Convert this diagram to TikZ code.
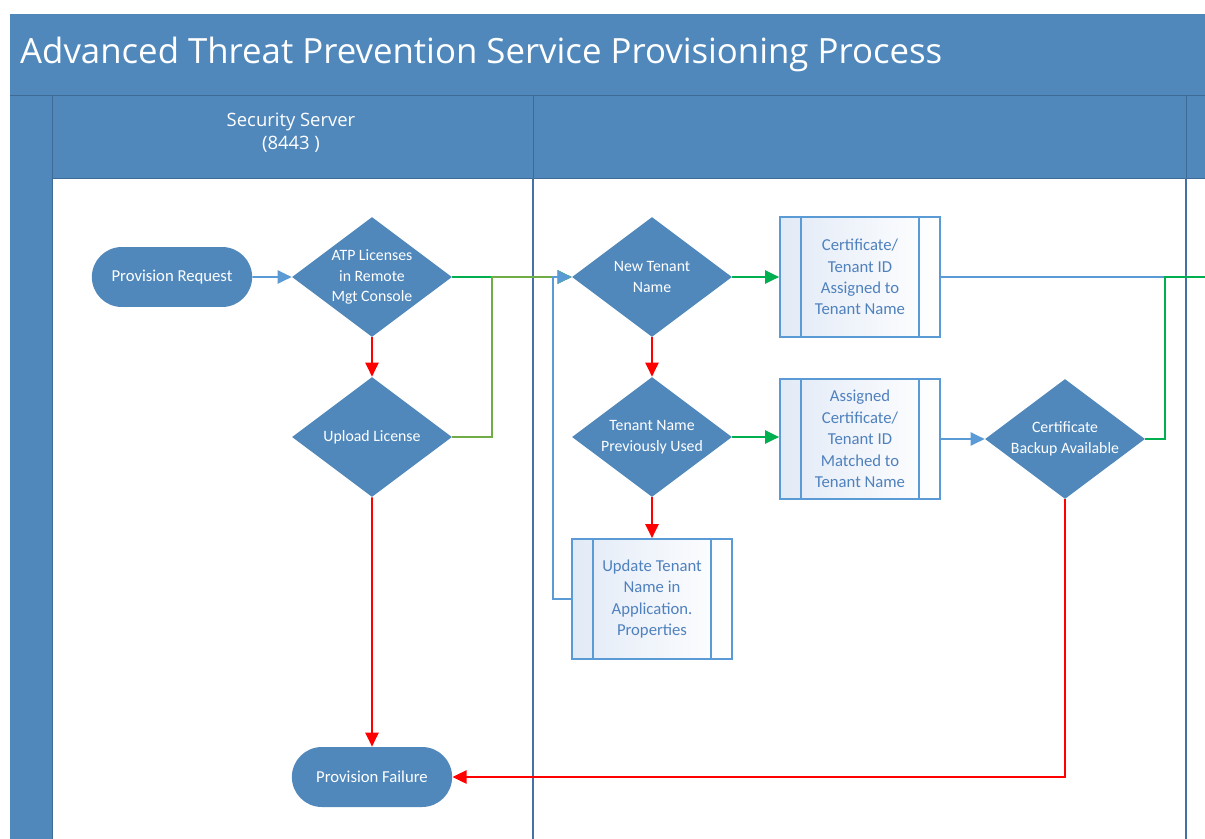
\documentclass[tikz,border=0pt]{standalone}
\usepackage{fontspec}
\setmainfont{Carlito}
\newfontfamily\headfont{Open Sans}
\usetikzlibrary{shapes.geometric,shapes.misc,arrows.meta}

\definecolor{lanefill}{RGB}{80,136,188}
\definecolor{laneline}{RGB}{62,106,150}
\definecolor{lanediv}{RGB}{70,112,168}
\definecolor{flowblue}{RGB}{91,155,213}
\definecolor{yesgreen}{RGB}{0,176,80}
\definecolor{oldgreen}{RGB}{112,173,71}
\definecolor{nored}{RGB}{255,0,0}
\definecolor{proctext}{RGB}{79,129,189}
\definecolor{procfill}{RGB}{226,234,247}

\tikzset{
	terminal/.style={rounded rectangle, fill=lanefill, text=white, minimum width=3.44cm, minimum height=1.2cm, font=\fontsize{9.5}{12}\selectfont},
	decision/.style={diamond, fill=lanefill, text=white, minimum width=3.2cm, minimum height=2.4cm, inner xsep=-0.4cm, inner ysep=-0.1cm, align=center, font=\fontsize{9}{11.8}\selectfont},
	subproc/.style={rectangle, draw=flowblue, line width=1pt, left color=procfill, right color=white, text=proctext, minimum width=3.2cm, minimum height=2.4cm, align=center, font=\fontsize{9.5}{12.2}\selectfont,
		path picture={\draw[flowblue,line width=1pt] ([xshift=0.42cm]path picture bounding box.north west) -- ([xshift=0.42cm]path picture bounding box.south west) ([xshift=-0.42cm]path picture bounding box.north east) -- ([xshift=-0.42cm]path picture bounding box.south east);}},
	tip/.style={-{Triangle[length=8pt,width=7.5pt]}},
	flow/.style={draw=flowblue, line width=1.1pt, tip},
	yes/.style={draw=yesgreen, line width=1.1pt, tip},
	yesold/.style={draw=oldgreen, line width=1.1pt, tip},
	no/.style={draw=nored, line width=1.1pt, tip}
}

\begin{document}
\begin{tikzpicture}[x=0.02cm,y=-0.02cm]
	\clip (0,0) rectangle (1205,839);
	\fill[white] (0,0) rectangle (1205,839);
	\fill[lanefill] (10,14) rectangle (1215,845);
	\fill[white] (52,178) rectangle (1215,845);
	\draw[laneline,thin] (10,95) -- (1215,95);
	\draw[laneline,thin] (52,178) -- (1215,178);
	\draw[laneline,thin] (52,95) -- (52,845);
	\foreach \x in {533,1186}
	{
		\draw[laneline,thin] (\x,95) -- (\x,178);
		\draw[lanediv,line width=0.8pt] (\x,178) -- (\x,845);
	}
	
	\node[anchor=base west,text=white,font=\headfont\fontsize{19.8}{24}\selectfont] (title) at (14,63) {Advanced Threat Prevention Service Provisioning Process};
	\node[text=white,align=center,font=\headfont\fontsize{10.5}{13}\selectfont] (lane1) at (291,133) {Security Server\\(8443 )};
	
	
	\node[terminal] (req) at (172,277) {Provision Request};
	\node[decision] (atp) at (372,277) {ATP Licenses\\in Remote\\Mgt Console};
	\node[decision] (upload) at (372,437) {Upload License};
	\node[terminal] (failure) at (372,777) {Provision Failure};
	\node[decision] (newtenant) at (652,277) {New Tenant\\Name};
	\node[decision] (prevused) at (652,437) {Tenant Name\\Previously Used};
	\node[subproc] (cert) at (860,277) {Certificate/\\Tenant ID\\Assigned to\\Tenant Name};
	\node[subproc] (matched) at (860,439) {Assigned\\Certificate/\\Tenant ID\\Matched to\\Tenant Name};
	\node[subproc] (update) at (652,599) {Update Tenant\\Name in\\Application.\\Properties};
	\node[decision] (backup) at (1065,439) {Certificate\\Backup Available};
	
	\coordinate (joinA) at (492,277);
	\coordinate (loopB) at (553,599);
	\coordinate (joinC) at (1165,277);
	\coordinate (offR) at (1230,277);
	
	
	\draw[flow] (req) -- (atp);
	\draw[no] (atp) -- (upload);
	\draw[no] (upload) -- (failure);
	\draw[yes] (atp) -- (newtenant);
	\draw[yesold] (upload.east) -| (joinA) -- (newtenant.west);
	\draw[flow] (update.west) -- (loopB) |- (newtenant.west);
	\draw[yes] (newtenant) -- (cert);
	\draw[no] (newtenant) -- (prevused);
	\draw[yes] (prevused) -- (matched.west |- prevused);
	\draw[no] (prevused) -- (update);
	\draw[flow] (matched.east |- backup) -- (backup);
	\draw[flow] (cert) -- (offR);
	\draw[yes] (backup.east) -| (joinC) -- (offR);
	\draw[no] (backup.south) |- (failure.east);
\end{tikzpicture}
\end{document}
